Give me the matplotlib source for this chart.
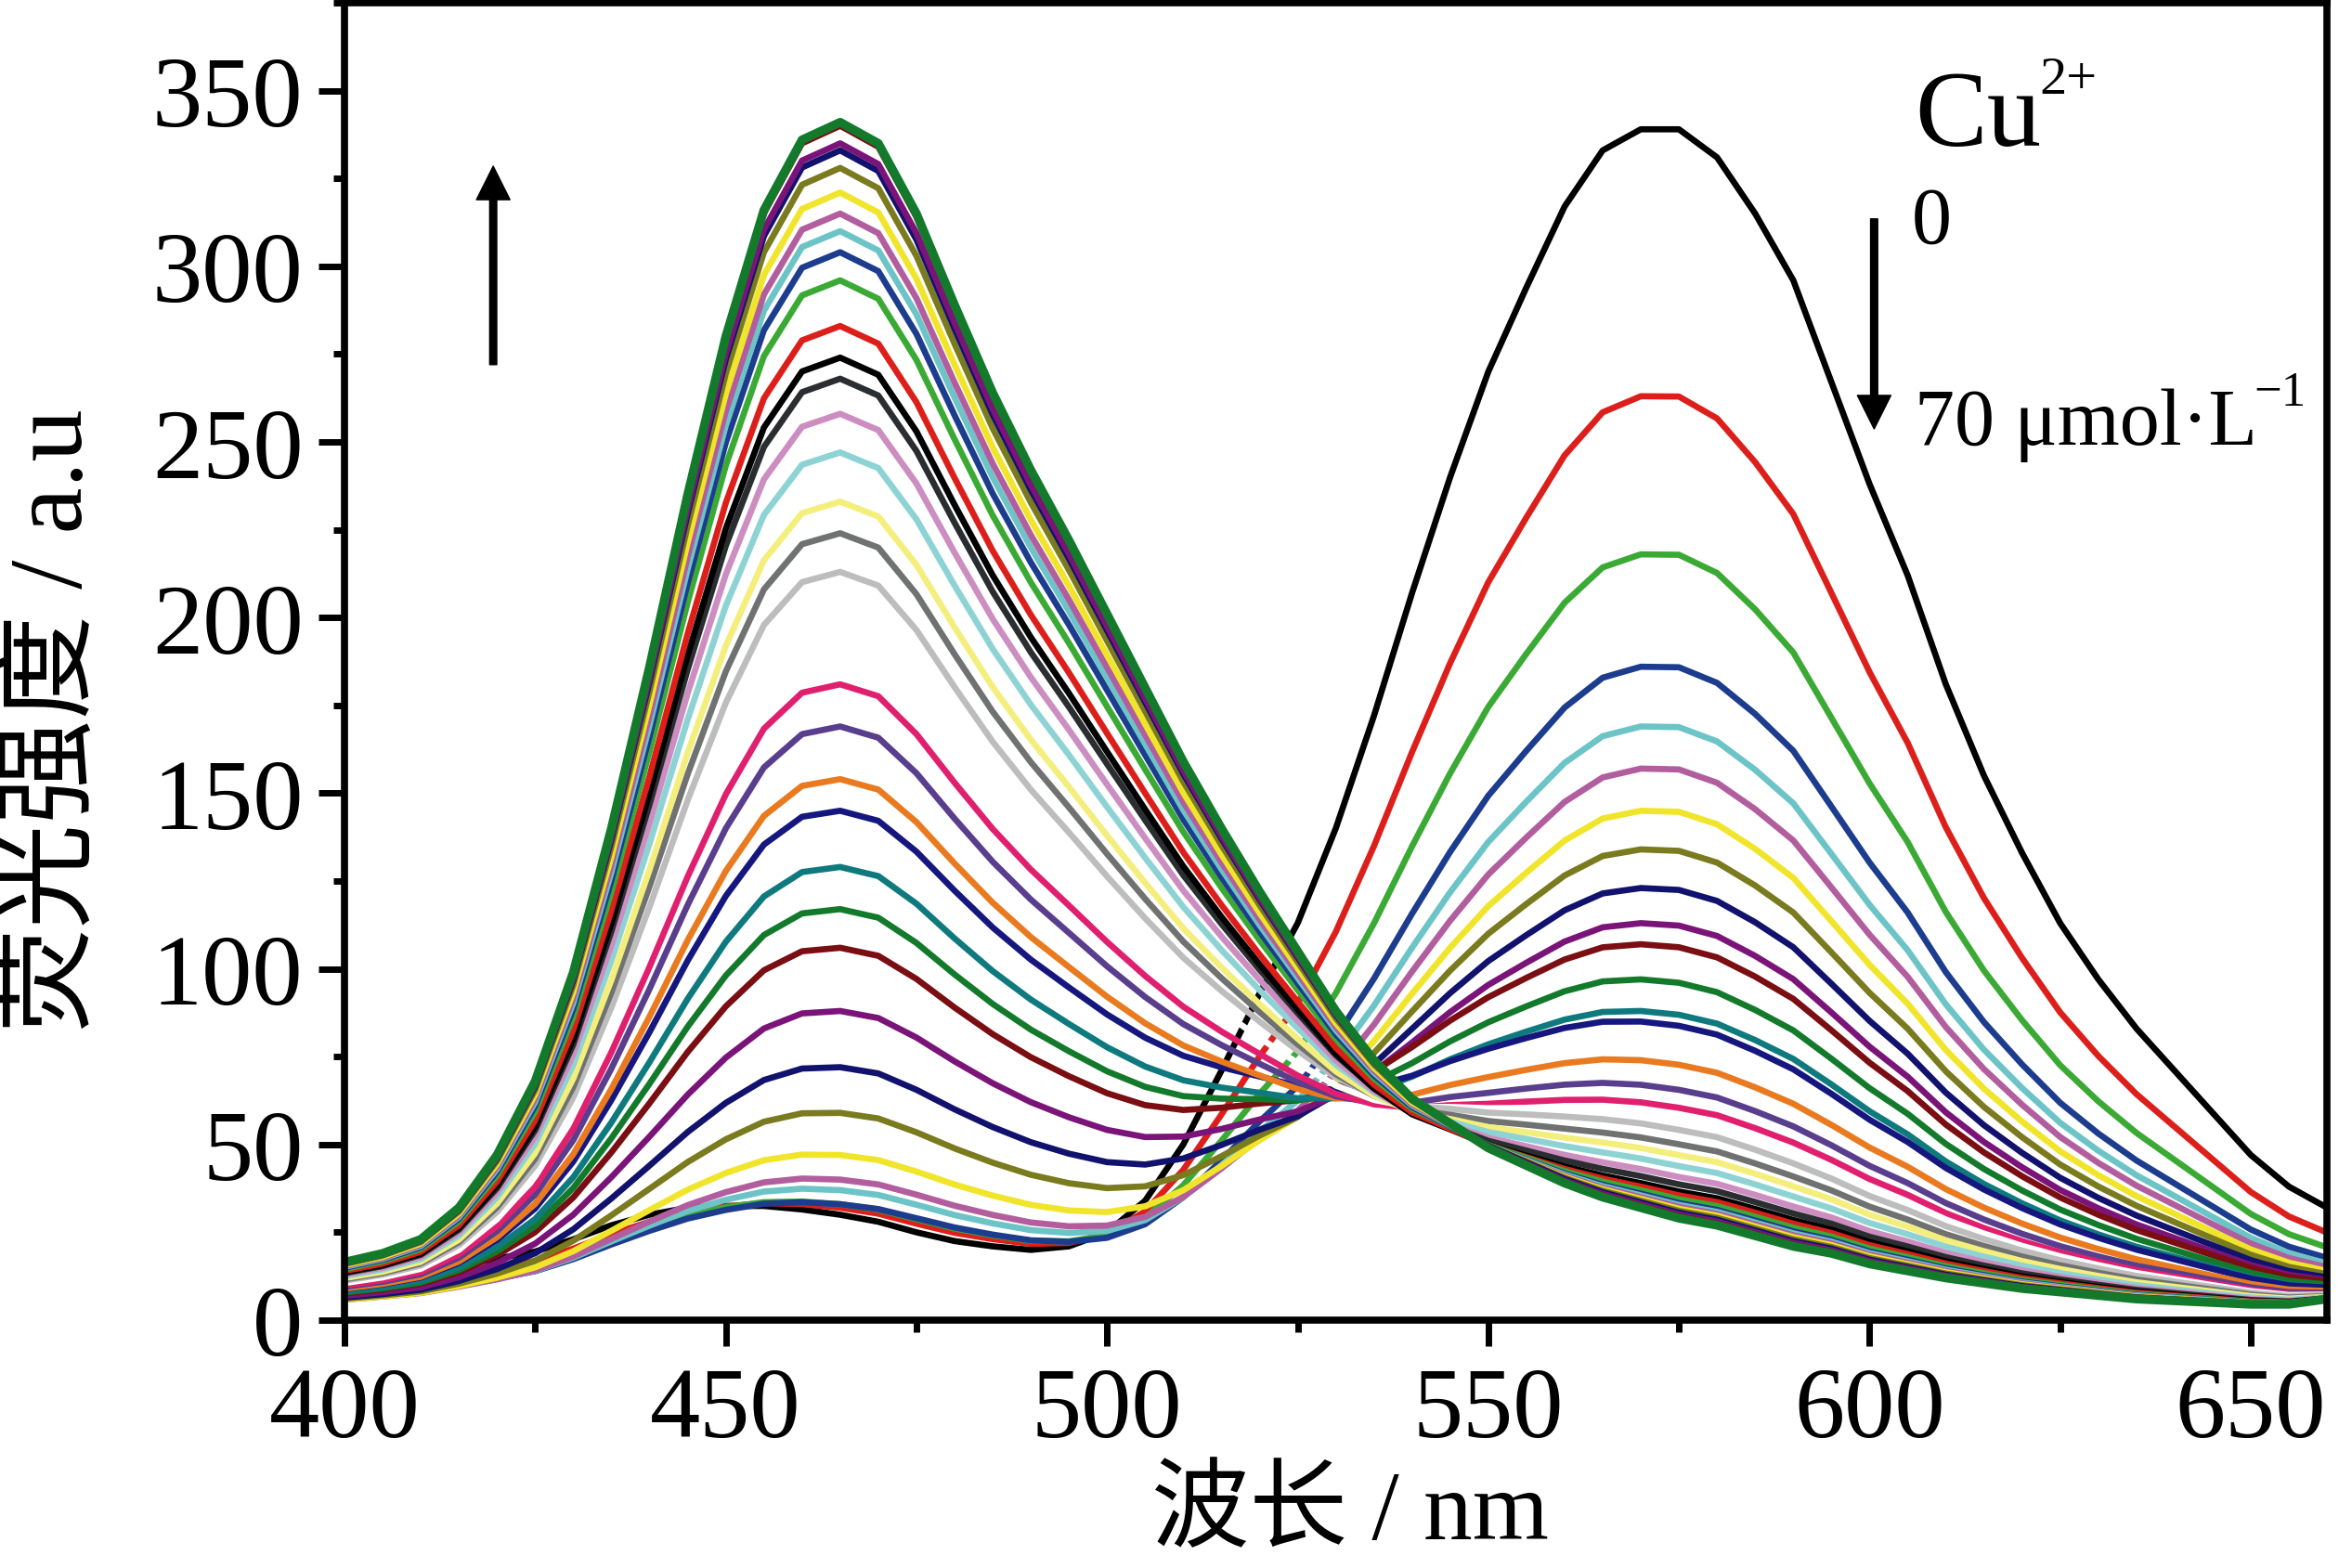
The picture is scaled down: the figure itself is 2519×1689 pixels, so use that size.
import matplotlib
matplotlib.use("Agg")
import matplotlib.pyplot as plt
import numpy as np
from matplotlib.ticker import MultipleLocator

plt.rcParams['font.family'] = ['Liberation Serif', 'Noto Sans CJK SC', 'DejaVu Sans']

# wavelength grid (nm), 5 nm steps
wl = np.arange(400, 661, 5)

# spectrum without Cu2+ (first curve)
first_curve = [10, 11.5, 13, 15.5, 17.5, 19.5, 23, 27, 30, 32,
               32.5, 32.5, 31.5, 30, 28, 25, 22.5, 21, 20, 21,
               25, 34, 50, 71, 93, 113, 140, 172, 207, 240,
               270, 294, 317, 333, 339, 339, 331, 315, 296, 267,
               238, 212, 181, 155, 133, 113, 97, 83, 71, 59,
               47, 38, 32]
# spectrum at 70 umol/L Cu2+ (last, thick curve)
last_curve = [16.5, 19, 23, 32, 47, 68, 99, 140, 186, 235,
              280, 316, 336, 341, 335, 315, 289, 264, 242, 222,
              201, 180, 159, 140, 122, 105, 88, 74, 63, 56,
              49, 44, 39, 35, 32, 29, 27, 24, 21, 19,
              16, 14, 12, 10.5, 9, 8, 7, 6, 5.5, 5,
              4.5, 4.5, 6]

# intensity of every curve at 465 nm and at 570 nm
blue_peak = [30, 32, 33, 33, 37, 40, 47, 59, 72, 88, 106, 117, 129, 145, 154, 169, 181, 197,
             213, 224, 233, 247, 258, 268, 274, 283, 296, 304, 310, 315, 321, 328, 333, 335, 340, 341]
orange_peak = [339, 263, 218, 186, 169, 157, 145, 134, 123, 113, 107, 97, 88, 85, 74, 67, 62, 59,
               56, 52, 49, 46, 43, 41, 39, 38, 37, 36, 35.5, 35, 34.5, 34, 33.5, 33, 32.5, 32]

# Origin default colour list, as it appears in the picture
colors = ['#000000', '#DD1F1B', '#3BAA35', '#1C3C8E', '#6CC4C7', '#B25E9E', '#F0E52A', '#7A7A1E',
          '#11116E', '#7B1479', '#7A0E12', '#137A2C', '#0F7A7E', '#15177F', '#EA7A20', '#5A3E8E',
          '#E01F6E', '#FFFFFF', '#BDBDBD', '#707272', '#F4EF7C', '#8ED3D4', '#CC8EC0', '#2A2E30',
          '#000000', '#DD1F1B', '#3BAA35', '#1C3C8E', '#6CC4C7', '#B25E9E', '#F0E52A', '#7A7A1E',
          '#11116E', '#7B1479', '#7A0E12', '#137A2C']

first = np.array(first_curve)
last = np.array(last_curve)
i465 = list(wl).index(465)
i570 = list(wl).index(570)
M = np.array([[first[i465], last[i465]], [first[i570], last[i570]]])

fig = plt.figure(figsize=(25.19, 16.90), dpi=100)
ax = fig.add_axes([0.1473, 0.158, 0.8476, 0.8396])

n = len(blue_peak)
for i in range(n):
    a, b = np.linalg.solve(M, [blue_peak[i], orange_peak[i]])
    y = a * first + b * last
    lw = 6.8 if i == n - 1 else 4.8
    ax.plot(wl, y, color=colors[i], lw=lw, solid_joinstyle='round')

ax.set_xlim(400, 660)
ax.set_ylim(0, 375)
ax.xaxis.set_major_locator(MultipleLocator(50))
ax.xaxis.set_minor_locator(MultipleLocator(25))
ax.yaxis.set_major_locator(MultipleLocator(50))
ax.yaxis.set_minor_locator(MultipleLocator(25))
for s in ax.spines.values():
    s.set_linewidth(5.5)
ax.tick_params(which='both', direction='out', top=False, right=False, width=5)
ax.tick_params(which='major', length=20, labelsize=78)
ax.tick_params(which='minor', length=9)
ax.tick_params(axis='y', which='major', pad=12)
ax.tick_params(axis='x', which='major', pad=16)

fig.text(0.024, 0.541, '荧光强度 / a.u', rotation=90, ha='center', va='center', fontsize=81)
fig.text(0.577, 0.034, '波长 / nm', ha='center', va='center', fontsize=76)

# arrows
ax.annotate('', xy=(419.5, 328.5), xytext=(419.5, 272),
            arrowprops=dict(width=5.5, headwidth=26, headlength=26, shrink=0, color='k'))
ax.annotate('', xy=(600.6, 253.7), xytext=(600.6, 313.5),
            arrowprops=dict(width=5.5, headwidth=26, headlength=26, shrink=0, color='k'))

ax.text(605.9, 334.7, 'Cu', fontsize=84, ha='left', va='baseline')
ax.text(622.3, 349.5, '2+', fontsize=42, ha='left', va='baseline')
ax.text(605.5, 307, '0', fontsize=62, ha='left', va='baseline')
ax.text(605.9, 249.5, '70 μmol·L', fontsize=62, ha='left', va='baseline')
ax.text(650.4, 260.5, '\u22121', fontsize=38, ha='left', va='baseline')

fig.savefig('out.png', dpi=100)
